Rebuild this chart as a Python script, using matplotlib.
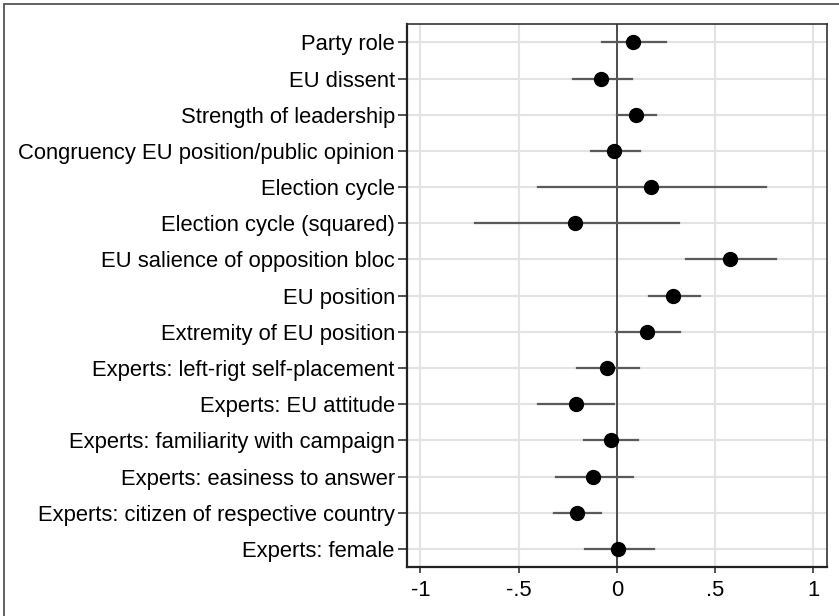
import matplotlib
matplotlib.use('Agg')
import matplotlib.pyplot as plt
from matplotlib.patches import Rectangle

# Dati: coefficienti e intervalli di confidenza
labels = ['Party role', 'EU dissent', 'Strength of leadership',
          'Congruency EU position/public opinion', 'Election cycle',
          'Election cycle (squared)', 'EU salience of opposition bloc',
          'EU position', 'Extremity of EU position',
          'Experts: left-rigt self-placement', 'Experts: EU attitude',
          'Experts: familiarity with campaign', 'Experts: easiness to answer',
          'Experts: citizen of respective country', 'Experts: female']
coef = [0.083, -0.083, 0.097, -0.012, 0.173, -0.211, 0.574, 0.287, 0.152,
        -0.051, -0.210, -0.032, -0.120, -0.203, 0.005]
ci_low = [-0.076, -0.225, 0.000, -0.132, -0.403, -0.723, 0.351, 0.163, -0.003,
          -0.203, -0.401, -0.168, -0.310, -0.320, -0.160]
ci_high = [0.250, 0.076, 0.200, 0.119, 0.759, 0.317, 0.810, 0.425, 0.320,
           0.112, -0.012, 0.110, 0.081, -0.081, 0.190]
xticks = [-1, -0.5, 0, 0.5, 1]
xticklabels = ['-1', '-.5', '0', '.5', '1']

plt.rcParams['font.family'] = ['Liberation Sans', 'DejaVu Sans']

fig = plt.figure(figsize=(8.39, 6.16), dpi=100)
ax = fig.add_axes([0.4847, 0.0795, 0.501, 0.8811])

# Cornice esterna
fig.patches.append(Rectangle((0.0048, -0.1), 1.2, 1.0935, transform=fig.transFigure,
                             fill=False, edgecolor='#555555', linewidth=1.3,
                             clip_on=False))

ypos = list(range(len(labels)))

for y in ypos:
    ax.axhline(y, color='#e3e3e3', linewidth=1.5, zorder=0)
for x in xticks:
    ax.axvline(x, color='#e3e3e3', linewidth=1.5, zorder=0)

ax.axvline(0, color='#333333', linewidth=1.2, zorder=1)

for y, c, lo, hi in zip(ypos, coef, ci_low, ci_high):
    ax.plot([lo, hi], [y, y], color='#5a5a5a', linewidth=1.6, zorder=2)
ax.plot(coef, ypos, 'o', color='black', markersize=10, zorder=3)

ax.set_ylim(len(labels) - 0.5, -0.5)
ax.set_xlim(-1.07, 1.07)
ax.set_yticks(ypos)
ax.set_yticklabels(labels, fontsize=15.8)
ax.set_xticks(xticks)
ax.set_xticklabels(xticklabels, fontsize=15.8)
ax.tick_params(axis='y', length=6.5, width=1.2, pad=2, color='#333333')
ax.tick_params(axis='x', length=4, width=1.2, pad=5, color='#333333')

for side in ['left', 'bottom']:
    ax.spines[side].set_linewidth(1.6)
    ax.spines[side].set_color('#222222')
for side in ['top', 'right']:
    ax.spines[side].set_linewidth(1.2)
    ax.spines[side].set_color('#333333')

fig.savefig('out.png', dpi=100)
